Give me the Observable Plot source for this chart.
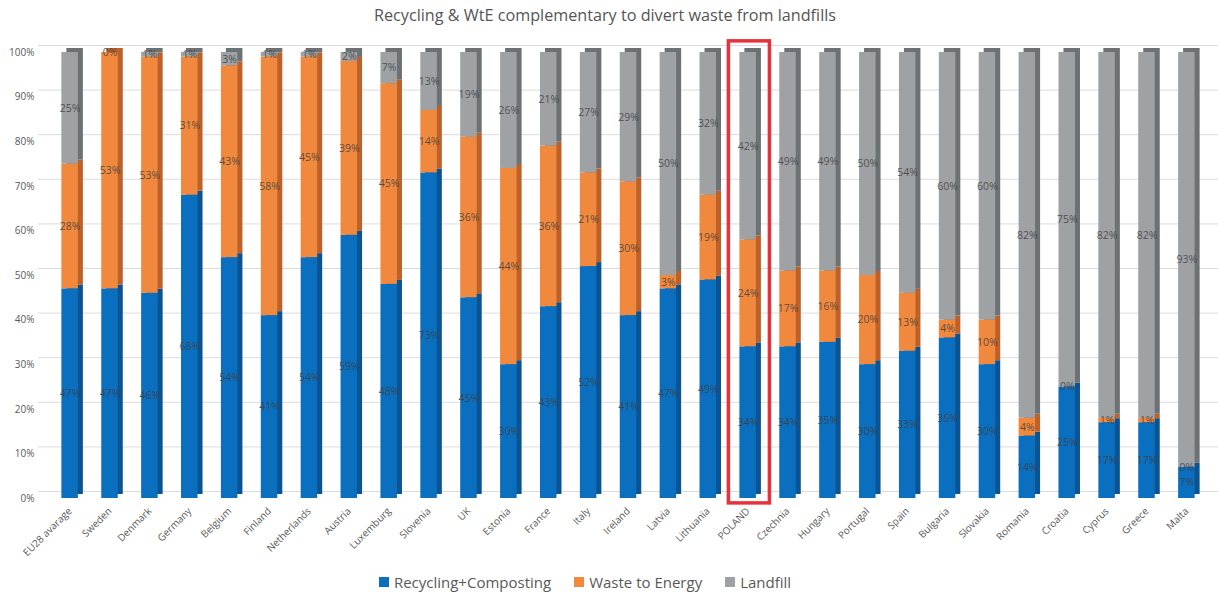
<!DOCTYPE html>
<html>
<head>
<meta charset="utf-8">
<script src="https://cdn.jsdelivr.net/npm/d3@7"></script>
<script src="https://cdn.jsdelivr.net/npm/@observablehq/plot@0.6"></script>
<style>
  html, body { margin: 0; padding: 0; background: #fff; }
  body { width: 1218px; height: 598px; overflow: hidden; font-family: "Open Sans", sans-serif; }
  #title { height: 30px; line-height: 30px; text-align: center; font-size: 16.2px; color: #555; padding-right: 8px; }
  #chart svg { display: block; }
  #legend { display: flex; justify-content: center; align-items: center; gap: 23px; height: 33px; font-size: 15px; color: #595959; padding-right: 48px; }
  .item { display: flex; align-items: center; gap: 5px; }
  .sw { width: 10px; height: 10px; display: inline-block; }
</style>
</head>
<body>
<div id="title">Recycling &amp; WtE complementary to divert waste from landfills</div>
<div id="chart"></div>
<div id="legend"></div>
<script>
const countries = ["EU28 avarage","Sweden","Denmark","Germany","Belgium","Finland","Netherlands","Austria","Luxemburg","Slovenia","UK","Estonia","France","Italy","Ireland","Latvia","Lithuania","POLAND","Czechnia","Hungary","Portugal","Spain","Bulgaria","Slovakia","Romania","Croatia","Cyprus","Greece","Malta"];
const recycling = [47,47,46,68,54,41,54,59,48,73,45,30,43,52,41,47,49,34,34,35,30,33,36,30,14,25,17,17,7];
const wasteToEnergy = [28,53,53,31,43,58,45,39,45,14,36,44,36,21,30,3,19,24,17,16,20,13,4,10,4,0,1,1,0];
const landfill = [25,0,1,1,3,1,1,2,7,13,19,26,21,27,29,50,32,42,49,49,50,54,60,60,82,75,82,82,93];
const seriesNames = ["Recycling+Composting","Waste to Energy","Landfill"];
const frontColors = ["#0b6fc0","#f0883e","#9ea2a5"];
const sideColors = ["#0a5493","#bd6129","#6c7173"];
const yTicks = [0,10,20,30,40,50,60,70,80,90,100];
const highlighted = ["POLAND"];

const seriesValues = [recycling, wasteToEnergy, landfill];
const data = seriesNames.flatMap((s, i) => countries.map((c, j) => ({
  country: c, series: s, si: i, value: seriesValues[i][j]
})));

const chart = Plot.plot({
  width: 1218,
  height: 535,
  marginTop: 22,
  marginBottom: 67,
  marginLeft: 38,
  marginRight: 0,
  style: { fontFamily: "'Open Sans', sans-serif", fontSize: "10px", color: "#595959", background: "#fff" },
  x: { domain: countries, padding: 0.586, round: false, tickRotate: -45, tickSize: 0, tickPadding: 11, label: null },
  y: { domain: [0, 100], ticks: yTicks, tickFormat: d => d + "%", tickSize: 0, tickPadding: 4, label: null },
  color: { type: "identity" },
  marks: [
    Plot.ruleY(yTicks, { stroke: "#dcdcdc", strokeWidth: 1, dy: -7 }),
    Plot.barY(data, Plot.stackY({ x: "country", y: "value", z: "series", fill: d => sideColors[d.si], dx: 5, dy: -4 })),
    Plot.barY(data, Plot.stackY({ x: "country", y: "value", z: "series", fill: d => frontColors[d.si] })),
    Plot.text(data, Plot.stackY({ x: "country", y: "value", z: "series", text: d => d.value + "%", fill: "#3f3f3f", fillOpacity: 0.85, fontSize: 10.5 })),
    Plot.barY(highlighted.map(c => ({ country: c })), { x: "country", y1: -1.1, y2: 102.5, fill: "none", stroke: "#e8313b", strokeWidth: 3.5, insetLeft: -11, insetRight: -13.5 })
  ]
});
document.getElementById("chart").appendChild(chart);

const legend = document.getElementById("legend");
seriesNames.forEach((s, i) => {
  const it = document.createElement("div");
  it.className = "item";
  it.innerHTML = `<span class="sw" style="background:${frontColors[i]}"></span><span>${s}</span>`;
  legend.appendChild(it);
});
</script>
</body>
</html>
